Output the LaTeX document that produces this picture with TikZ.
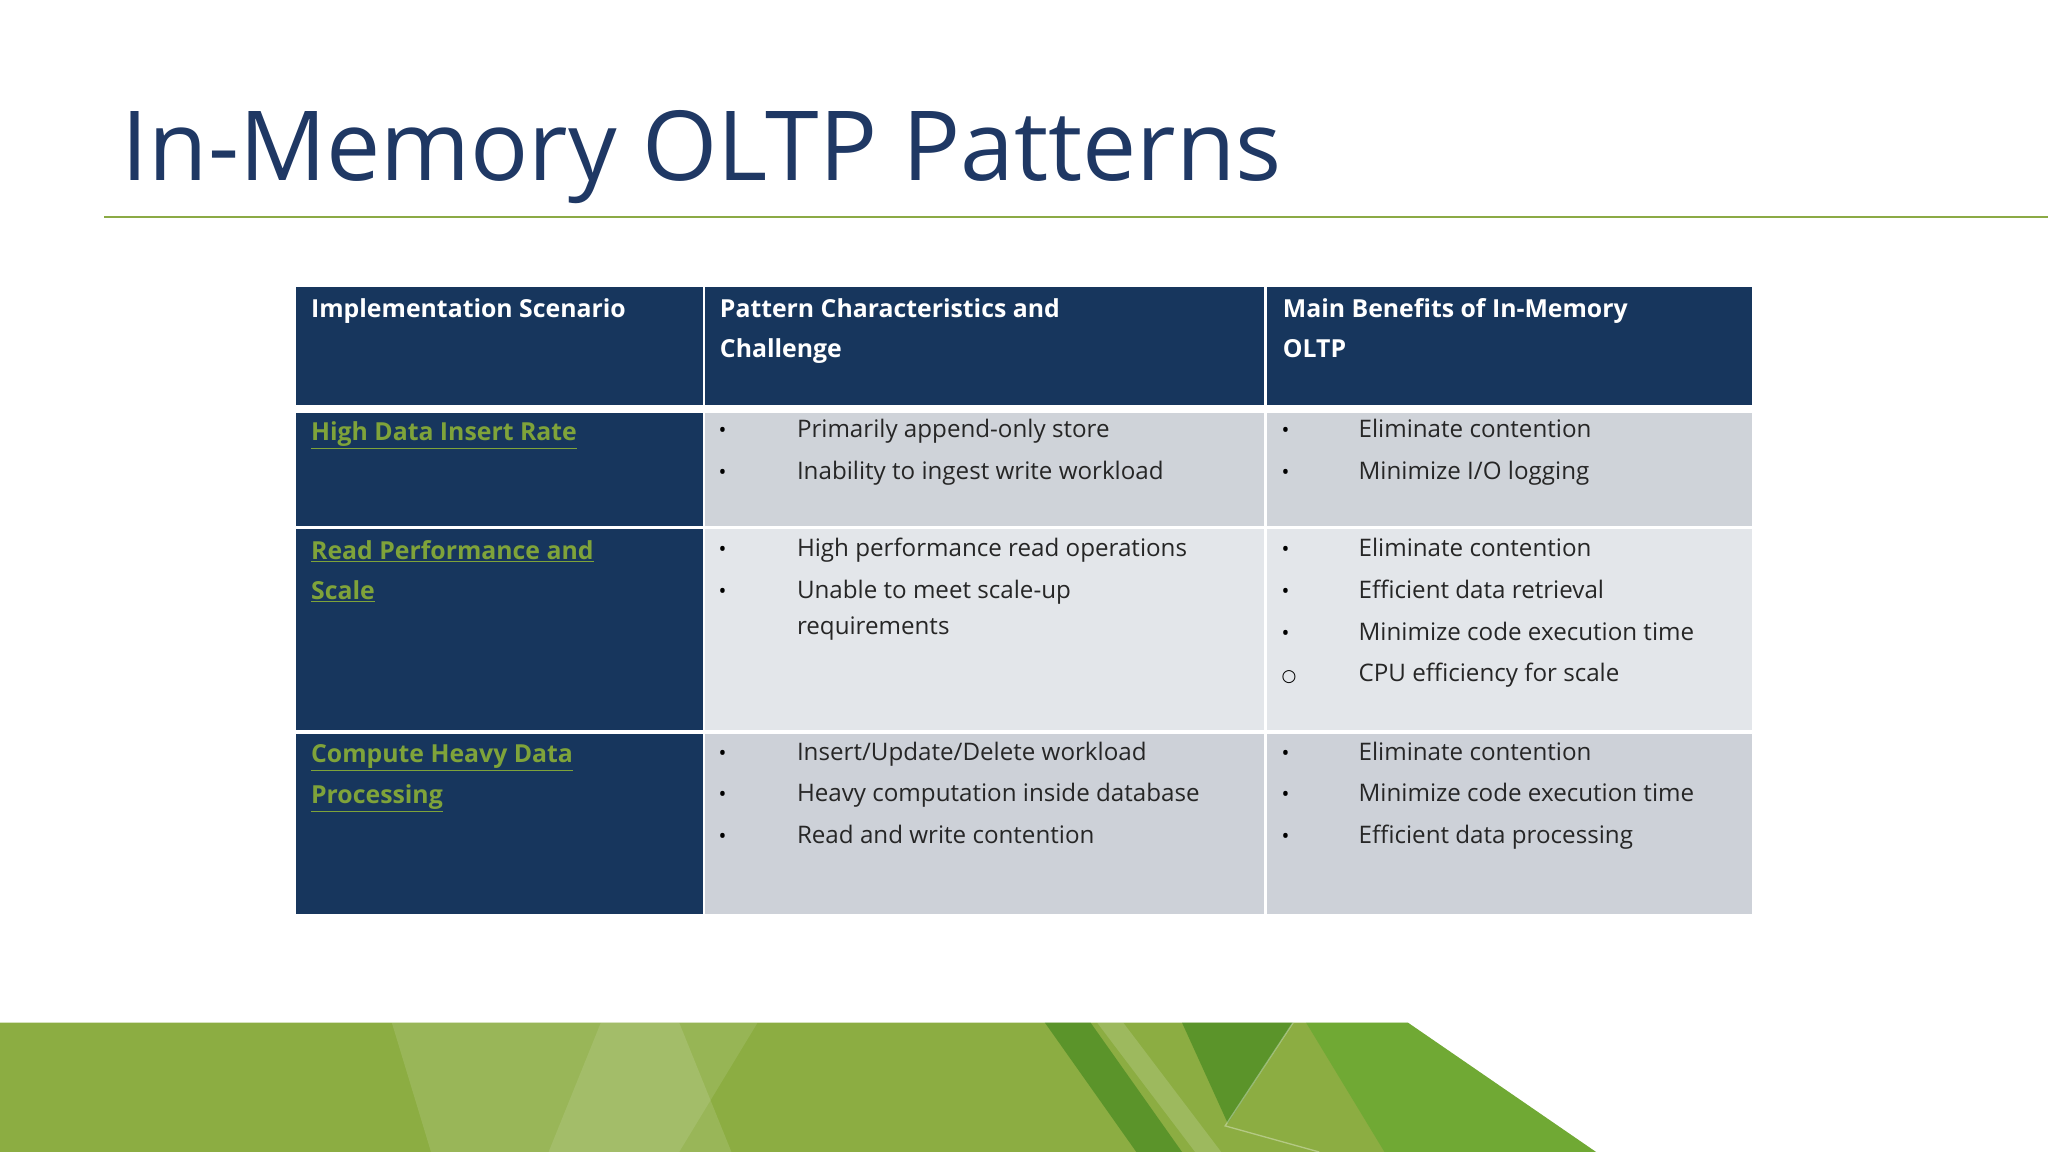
\documentclass[tikz,border=0pt]{standalone}
\usepackage{fontspec}
\setmainfont{Open Sans}
\begin{document}
\begin{tikzpicture}[x=1pt,y=-1pt,
  hdr/.style={fill=navy,draw=none},
  htxt/.style={anchor=base west,inner sep=0,text=white,font=\fontsize{19}{23}\selectfont\bfseries},
  link/.style={anchor=base west,inner sep=0,text=linkg,font=\fontsize{19}{23}\selectfont\bfseries},
  btxt/.style={anchor=base west,inner sep=0,text=black!85,font=\fontsize{18.5}{22}\selectfont},
  bul/.style={anchor=base west,inner sep=0,text=black,font=\fontsize{16}{20}\selectfont}]
\definecolor{navy}{HTML}{17365D}
\definecolor{titlec}{HTML}{1F3864}
\definecolor{linkg}{HTML}{7FA33A}
\definecolor{rulec}{HTML}{8BAA45}
\definecolor{gA}{HTML}{CFD3D9}
\definecolor{gB}{HTML}{E3E6EA}
\definecolor{gC}{HTML}{CDD1D8}
\definecolor{band}{HTML}{8CAD42}
\useasboundingbox (0,0) rectangle (1568,882);
\fill[white] (0,0) rectangle (1568,882);
% title
\node[anchor=base west,inner sep=0,text=titlec,font=\fontsize{74}{80}\selectfont] (title) at (93,138) {In-Memory OLTP Patterns};
\draw[rulec,line width=1.5pt] (80,166) -- (1568,166);
% table cells
\fill[navy] (227,220) rectangle (538,310);
\fill[navy] (540,220) rectangle (968,310);
\fill[navy] (970,220) rectangle (1341,310);
\fill[navy] (227,316) rectangle (538,403);
\fill[gA] (540,316) rectangle (968,403);
\fill[gA] (970,316) rectangle (1341,403);
\fill[navy] (227,405) rectangle (538,559);
\fill[gB] (540,405) rectangle (968,559);
\fill[gB] (970,405) rectangle (1341,559);
\fill[navy] (227,562) rectangle (538,700);
\fill[gC] (540,562) rectangle (968,700);
\fill[gC] (970,562) rectangle (1341,700);
% header text
\node[htxt] (h1) at (238,243) {Implementation Scenario};
\node[htxt] (h2) at (551,243) {Pattern Characteristics and};
\node[htxt] (h2b) at (551,274) {Challenge};
\node[htxt] (h3) at (982,243) {Main Benefits of In-Memory};
\node[htxt] (h3b) at (982,274) {OLTP};
% links
\node[link] (l1) at (238,337) {\underline{High Data Insert Rate}};
\node[link] (l2) at (238,428) {\underline{Read Performance and}};
\node[link] (l2b) at (238,459) {\underline{Scale}};
\node[link] (l3) at (238,584) {\underline{Compute Heavy Data}};
\node[link] (l3b) at (238,615) {\underline{Processing}};
% row 1
\node[bul] (b11) at (550,335) {•}; \node[btxt] (t11) at (610,335) {Primarily append-only store};
\node[bul] (b12) at (550,367) {•}; \node[btxt] (t12) at (610,367) {Inability to ingest write workload};
\node[bul] (c11) at (981,335) {•}; \node[btxt] (u11) at (1040,335) {Eliminate contention};
\node[bul] (c12) at (981,367) {•}; \node[btxt] (u12) at (1040,367) {Minimize I/O logging};
% row 2
\node[bul] (b21) at (550,426) {•}; \node[btxt] (t21) at (610,426) {High performance read operations};
\node[bul] (b22) at (550,458) {•}; \node[btxt] (t22) at (610,458) {Unable to meet scale-up};
\node[btxt] (t23) at (610,486) {requirements};
\node[bul] (c21) at (981,426) {•}; \node[btxt] (u21) at (1040,426) {Eliminate contention};
\node[bul] (c22) at (981,458) {•}; \node[btxt] (u22) at (1040,458) {Efficient data retrieval};
\node[bul] (c23) at (981,490) {•}; \node[btxt] (u23) at (1040,490) {Minimize code execution time};
\node[bul] (c24) at (981,522) {\fontspec{DejaVu Sans}\fontsize{13}{16}\selectfont ○}; \node[btxt] (u24) at (1040,522) {CPU efficiency for scale};
% row 3
\node[bul] (b31) at (550,582) {•}; \node[btxt] (t31) at (610,582) {Insert/Update/Delete workload};
\node[bul] (b32) at (550,614) {•}; \node[btxt] (t32) at (610,614) {Heavy computation inside database};
\node[bul] (b33) at (550,646) {•}; \node[btxt] (t33) at (610,646) {Read and write contention};
\node[bul] (c31) at (981,582) {•}; \node[btxt] (u31) at (1040,582) {Eliminate contention};
\node[bul] (c32) at (981,614) {•}; \node[btxt] (u32) at (1040,614) {Minimize code execution time};
\node[bul] (c33) at (981,646) {•}; \node[btxt] (u33) at (1040,646) {Efficient data processing};
% bottom band
\fill[band] (0,783) -- (1078,783) -- (1222,882) -- (0,882) -- cycle;
\fill[white,opacity=0.12] (300,783) -- (520,783) -- (560,882) -- (330,882) -- cycle;
\fill[white,opacity=0.1] (460,783) -- (580,783) -- (520,882) -- (420,882) -- cycle;
\fill[black!60!green,opacity=0.35] (800,783) -- (835,783) -- (905,882) -- (870,882) -- cycle;
\fill[black!60!green,opacity=0.35] (905,783) -- (990,783) -- (940,860) -- cycle;
\fill[white,opacity=0.15] (840,783) -- (860,783) -- (935,882) -- (915,882) -- cycle;
\draw[white,opacity=0.35,line width=1pt] (990,783) -- (938,862) -- (1010,882);
\fill[black!40!green,opacity=0.2] (1000,783) -- (1078,783) -- (1222,882) -- (1060,882) -- cycle;
\end{tikzpicture}
\end{document}
